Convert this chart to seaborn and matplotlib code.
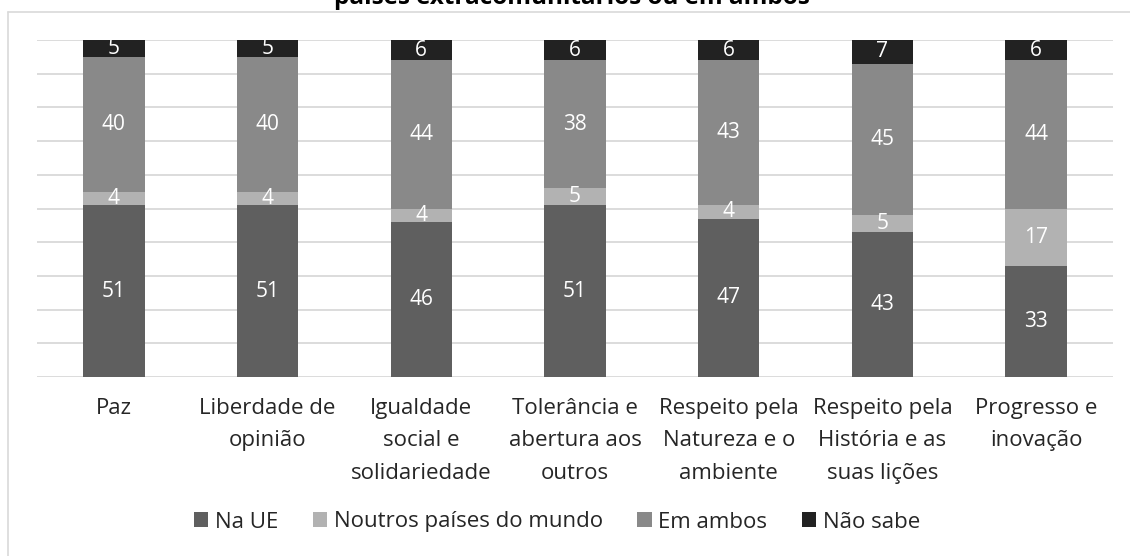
import matplotlib
matplotlib.use('Agg')
import matplotlib.pyplot as plt
import seaborn as sns
import numpy as np
from matplotlib.lines import Line2D
from matplotlib.patches import Patch

categories = [
    "Paz",
    "Liberdade de\nopinião",
    "Igualdade\nsocial e\nsolidariedade",
    "Tolerância e\nabertura aos\noutros",
    "Respeito pela\nNatureza e o\nambiente",
    "Respeito pela\nHistória e as\nsuas lições",
    "Progresso e\ninovação",
]
na_ue = [51, 51, 46, 51, 47, 43, 33]
noutros = [4, 4, 4, 5, 4, 5, 17]
em_ambos = [40, 40, 44, 38, 43, 45, 44]
nao_sabe = [5, 5, 6, 6, 6, 7, 6]
series_names = ["Na UE", "Noutros países do mundo", "Em ambos", "Não sabe"]
series_values = [na_ue, noutros, em_ambos, nao_sabe]
colors = ["#5f5f5f", "#b2b2b2", "#898989", "#222222"]
title_text = "países extracomunitários ou em ambos"

sns.set_theme(style="white")
plt.rcParams['font.family'] = ['Open Sans', 'DejaVu Sans']

W, H = 1130, 556
fig = plt.figure(figsize=(W / 100, H / 100), dpi=100)
ax = fig.add_axes([37 / W, (H - 377) / H, 1076 / W, 337 / H])

bottom = np.zeros(len(categories))
for name, vals, col in zip(series_names, series_values, colors):
    sns.barplot(x=categories, y=vals, color=col, width=0.4, bottom=bottom,
                ax=ax, saturation=1, linewidth=0, errorbar=None)
    ax.bar_label(ax.containers[-1], labels=[str(v) for v in vals],
                 label_type='center', color='white', fontsize=15)
    bottom = bottom + np.array(vals)

ax.set_xlim(-0.5, len(categories) - 0.5)
ax.set_ylim(0, 100)
ax.set_yticks(np.arange(0, 101, 10))
ax.set_yticklabels([])
ax.yaxis.grid(True, color='#d9d9d9', lw=1.3)
ax.set_axisbelow(True)
for s in ax.spines.values():
    s.set_visible(False)
ax.tick_params(axis='x', length=0, pad=15, labelsize=16, colors='#262626')
ax.tick_params(axis='y', length=0)
for lbl in ax.get_xticklabels():
    lbl.set_linespacing(1.72)
    lbl.set_multialignment('center')
ax.set_xlabel('')
ax.set_ylabel('')

handles = [Patch(facecolor=c, edgecolor='none') for c in colors]
fig.legend(handles, series_names, loc='center', bbox_to_anchor=(557 / W, 1 - 522 / H),
           ncol=4, frameon=False, fontsize=16, handlelength=0.65, handleheight=0.65,
           handletextpad=0.3, columnspacing=1.55, labelcolor='#262626')

fig.text(572 / W, 1 - 4 / H, title_text, ha='center', va='baseline',
         fontsize=17.5, fontweight='bold', color='#000000')

fig.add_artist(Line2D([7.5 / W, 1], [1 - 11.5 / H] * 2, transform=fig.transFigure,
                      color='#d9d9d9', lw=1.2))
fig.add_artist(Line2D([7.5 / W] * 2, [0, 1 - 11.5 / H], transform=fig.transFigure,
                      color='#d9d9d9', lw=1.2))

fig.savefig('out.png', dpi=100)
